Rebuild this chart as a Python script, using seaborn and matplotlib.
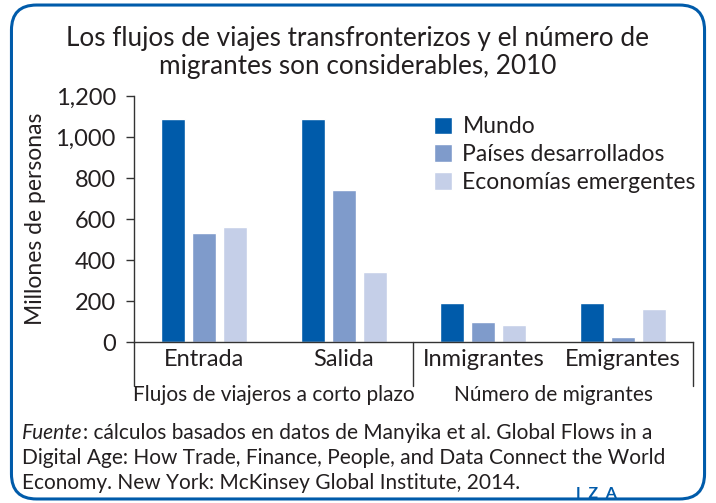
import matplotlib
matplotlib.use("Agg")
import matplotlib.pyplot as plt
import matplotlib.transforms as mtransforms
from matplotlib.patches import FancyBboxPatch
import pandas as pd
import seaborn as sns

# Data

categories = ["Entrada", "Salida", "Inmigrantes", "Emigrantes"]
series = ["Mundo", "Países desarrollados", "Economías emergentes"]
mundo = [1090, 1090, 190, 190]
desarrollados = [530, 740, 100, 25]
emergentes = [560, 340, 85, 160]
groups = ["Flujos de viajeros a corto plazo", "Número de migrantes"]
yticks = [0, 200, 400, 600, 800, 1000, 1200]

title = ("Los flujos de viajes transfronterizos y el número de\n"
         "migrantes son considerables, 2010")
source_lines = [
    ": cálculos basados en datos de Manyika et al. Global Flows in a",
    "Digital Age: How Trade, Finance, People, and Data Connect the World",
    "Economy. New York: McKinsey Global Institute, 2014.",
]

colors = ["#005BAA", "#7F9BCB", "#C5CFE8"]
text_color = "#231F20"

# Frame

df = pd.DataFrame({
    "categoria": categories * 3,
    "serie": [s for s in series for _ in categories],
    "valor": mundo + desarrollados + emergentes,
})

sns.set_style("white")
plt.rcParams["font.family"] = ["Lato", "DejaVu Sans"]
plt.rcParams["text.color"] = text_color

fig = plt.figure(figsize=(7.16, 5.03), dpi=100)
ax = fig.add_axes([0.187, 0.320, 0.781, 0.489])

sns.barplot(
    data=df, x="categoria", y="valor", hue="serie",
    order=categories, hue_order=series, palette=colors,
    width=0.665, gap=0.23, saturation=1, ax=ax,
)

ax.set_xlim(-0.5, 3.5)
ax.set_ylim(0, 1200)
ax.set_yticks(yticks)
ax.set_yticklabels([f"{v:,}" for v in yticks])
ax.set_xlabel("")
ax.set_ylabel("Millones de personas", fontsize=16.5, labelpad=7, color=text_color)
ax.tick_params(axis="y", length=6, width=1, pad=7, labelsize=17,
               colors="#333333", labelcolor=text_color, left=True)
ax.tick_params(axis="x", length=0, pad=5, labelsize=17, labelcolor=text_color)

for side in ["top", "right"]:
    ax.spines[side].set_visible(False)
for side in ["left", "bottom"]:
    ax.spines[side].set_color("#333333")
    ax.spines[side].set_linewidth(1)

# Group separators and group labels
trans = mtransforms.blended_transform_factory(ax.transData, ax.transAxes)
for xs in [-0.5, 1.5, 3.5]:
    ax.plot([xs, xs], [0, -0.179], transform=trans, color="#333333",
            lw=1, clip_on=False)
for xg, label in zip([0.5, 2.5], groups):
    ax.text(xg, -0.215, label, transform=trans, ha="center", va="center",
            fontsize=15)

ax.legend(
    loc="upper left", bbox_to_anchor=(0.52, 0.955), frameon=False,
    fontsize=16.5, handlelength=0.8, handleheight=0.8, handletextpad=0.45,
    labelspacing=0.3, borderaxespad=0,
)

# Title
fig.text(0.5, 0.895, title, ha="center", va="center", fontsize=18.8,
         linespacing=1.15)

# Source
y0 = 0.128
t = fig.text(0.031, y0, "Fuente", style="italic", fontsize=15,
             ha="left", va="baseline")
ax.annotate(source_lines[0], xy=(1, 0), xycoords=t, ha="left",
            va="bottom", fontsize=15)
for i, line in enumerate(source_lines[1:], start=1):
    fig.text(0.031, y0 - i * 0.05, line, fontsize=15, ha="left",
             va="baseline")

fig.text(0.805, 0.01, "I  Z  A", color="#005BAA", fontsize=11.5,
         fontweight="bold", ha="left", va="baseline")

# Rounded border
border = FancyBboxPatch(
    (0.016, 0.008), 0.968, 0.982, boxstyle="round,pad=0,rounding_size=0.035",
    transform=fig.transFigure, facecolor="none", edgecolor="#005BAA",
    linewidth=2.2, mutation_aspect=716 / 503,
)
fig.patches.append(border)

fig.savefig("out.png", dpi=100)
